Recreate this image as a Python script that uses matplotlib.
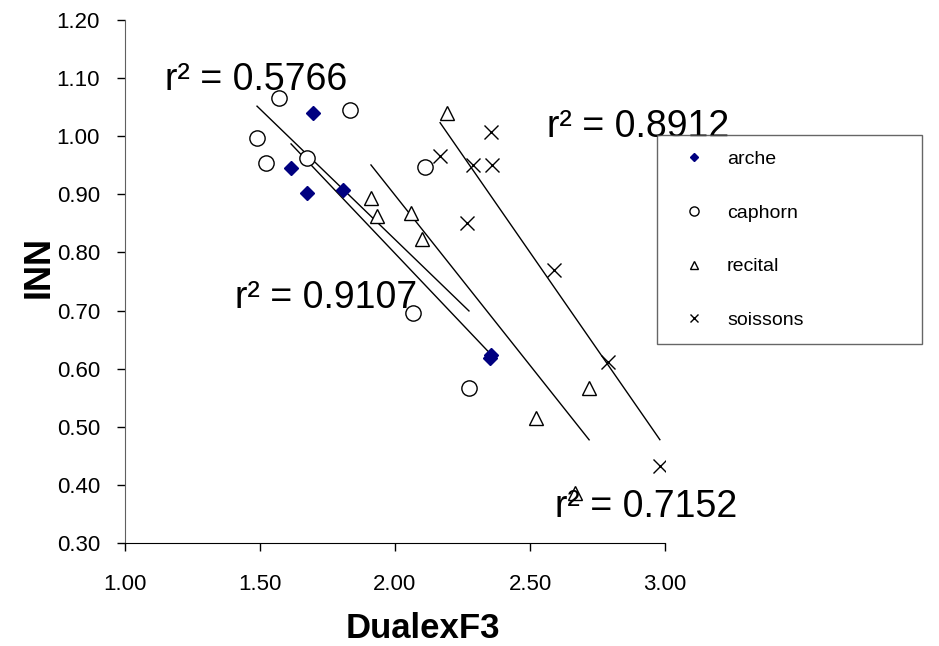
import numpy as np
import matplotlib
matplotlib.use("Agg")
import matplotlib.pyplot as plt

plt.rcParams['font.family'] = ['Liberation Sans', 'DejaVu Sans']

# data
arche_x = [1.696, 1.615, 1.674, 1.807, 2.356, 2.352]
arche_y = [1.040, 0.945, 0.902, 0.907, 0.623, 0.618]

caphorn_x = [1.570, 1.833, 1.489, 1.522, 1.674, 2.111, 2.067, 2.274]
caphorn_y = [1.066, 1.045, 0.997, 0.954, 0.962, 0.947, 0.696, 0.567]

recital_x = [2.193, 1.911, 1.933, 2.059, 2.100, 2.522, 2.719, 2.667]
recital_y = [1.040, 0.894, 0.863, 0.868, 0.823, 0.515, 0.567, 0.386]

soissons_x = [2.356, 2.167, 2.289, 2.359, 2.267, 2.589, 2.789, 2.981]
soissons_y = [1.007, 0.966, 0.950, 0.950, 0.851, 0.770, 0.611, 0.432]

r2_labels = ["r² = 0.5766", "r² = 0.8912", "r² = 0.9107", "r² = 0.7152"]
r2_pos = [(1.148, 1.079), (2.563, 0.999), (1.407, 0.704), (2.593, 0.345)]

x_ticks = [1.0, 1.5, 2.0, 2.5, 3.0]
y_ticks = [0.3, 0.4, 0.5, 0.6, 0.7, 0.8, 0.9, 1.0, 1.1, 1.2]

fig = plt.figure(figsize=(9.39, 6.46), dpi=100)
ax = fig.add_axes([125/939, 103/646, 540/939, 523/646])

series = [
    ("arche", arche_x, arche_y, dict(marker="D", ms=7, color="#000080", mec="#000080")),
    ("caphorn", caphorn_x, caphorn_y, dict(marker="o", ms=11, mfc="white", mec="black", mew=1)),
    ("recital", recital_x, recital_y, dict(marker="^", ms=10, mfc="white", mec="black", mew=1)),
    ("soissons", soissons_x, soissons_y, dict(marker="x", ms=10, color="black", mew=1)),
]

for name, xs, ys, style in series:
    ax.plot(xs, ys, linestyle="none", label=name, zorder=3, **style)
    # linear trend line over the data range
    k, b = np.polyfit(xs, ys, 1)
    xr = np.array([min(xs), max(xs)])
    ax.plot(xr, k * xr + b, color="black", lw=1, zorder=2)

for txt, (tx, ty) in zip(r2_labels, r2_pos):
    ax.text(tx, ty, txt, fontsize=27, ha="left", va="baseline", zorder=5)

ax.set_xlim(1.0, 3.0)
ax.set_ylim(0.3, 1.2)
ax.set_xticks(x_ticks)
ax.set_yticks(y_ticks)
ax.set_xticklabels([f"{v:.2f}" for v in x_ticks])
ax.set_yticklabels([f"{v:.2f}" for v in y_ticks])
ax.tick_params(axis="both", direction="out", length=6, width=1, labelsize=16, colors="black")
ax.tick_params(axis="x", pad=16)
ax.tick_params(axis="y", pad=12)
for s in ["top", "right"]:
    ax.spines[s].set_visible(False)
ax.spines["left"].set_color("#606060")
ax.spines["bottom"].set_color("black")

ax.set_xlabel("DualexF3", fontsize=25, fontweight="bold")
ax.xaxis.set_label_coords((423 - 125) / 540, (543 - 612) / 523)
ax.set_ylabel("INN", fontsize=26, fontweight="bold")
ax.yaxis.set_label_coords((57 - 125) / 540, (543 - 267) / 523)

leg = fig.legend(loc="upper left",
                 bbox_to_anchor=(657/939, 1 - 352/646, 265/939, 217/646),
                 mode="expand", fontsize=14, frameon=True, fancybox=False,
                 edgecolor="#404040", markerscale=0.6, labelspacing=1.85,
                 borderpad=0.8, handlelength=2.2, handletextpad=0.6,
                 borderaxespad=0)
leg.get_frame().set_linewidth(1)

fig.savefig("out.png", dpi=100)
